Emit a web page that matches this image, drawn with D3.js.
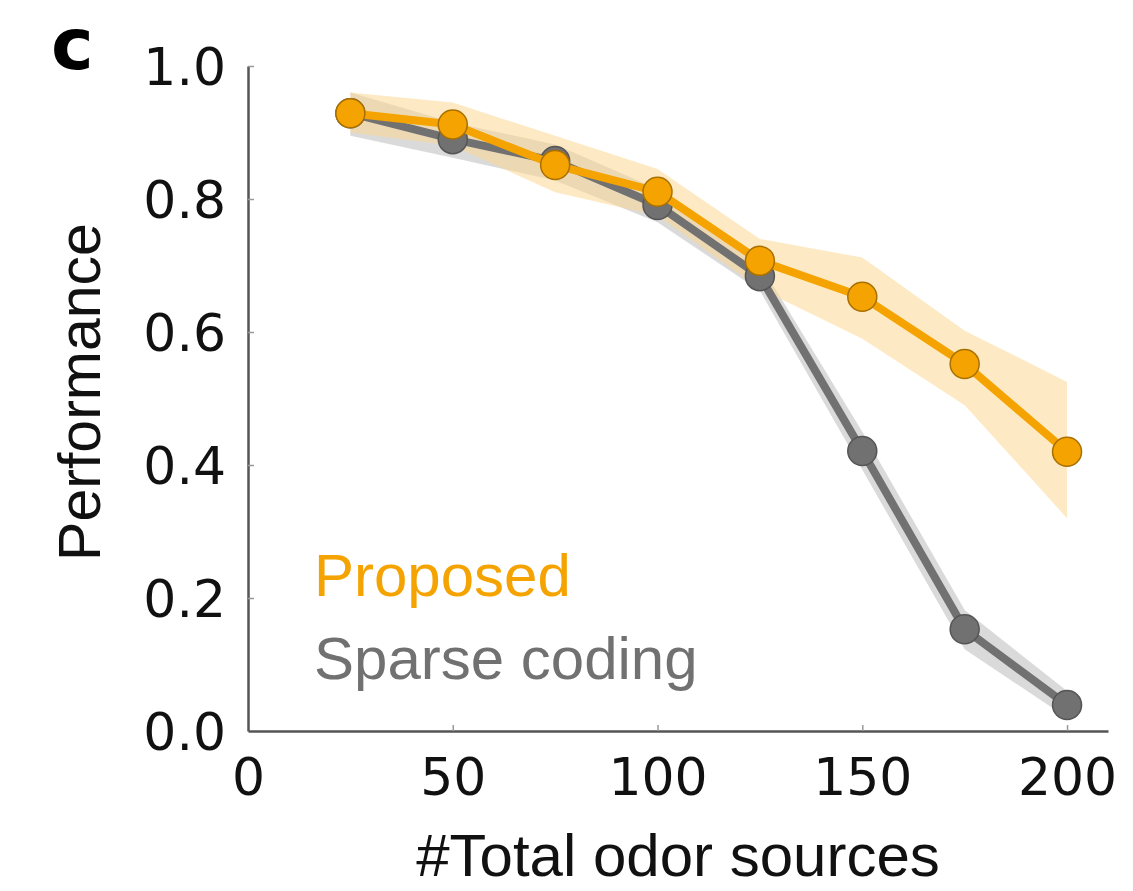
<!DOCTYPE html>
<html>
<head>
<meta charset="utf-8">
<script src="https://cdn.jsdelivr.net/npm/d3@7"></script>
<style>
  html, body { margin: 0; padding: 0; background: #fff; }
  svg { display: block; }
</style>
</head>
<body>
<svg id="chart" width="1133" height="891"></svg>
<script>
// Number of odor sources tested
const sources = [25, 50, 75, 100, 125, 150, 175, 200];

// Mean performance and shaded spread for each method
const proposedMean  = [0.929, 0.912, 0.851, 0.811, 0.707, 0.653, 0.552, 0.420];
const proposedUpper = [0.960, 0.945, 0.895, 0.845, 0.740, 0.712, 0.602, 0.525];
const proposedLower = [0.900, 0.880, 0.810, 0.775, 0.665, 0.590, 0.490, 0.320];

const sparseMean  = [0.929, 0.890, 0.857, 0.791, 0.684, 0.421, 0.153, 0.039];
const sparseUpper = [0.960, 0.915, 0.882, 0.815, 0.703, 0.450, 0.182, 0.060];
const sparseLower = [0.895, 0.862, 0.828, 0.765, 0.662, 0.393, 0.123, 0.020];

const xTicks = [0, 50, 100, 150, 200];
const yTicks = [0.0, 0.2, 0.4, 0.6, 0.8, 1.0];

const svg = d3.select("#chart");

const x = d3.scaleLinear().domain([0, 210]).range([248, 1108]);
const y = d3.scaleLinear().domain([0, 1]).range([731, 66]);

const ORANGE = "#f5a300";
const GREY = "#717171";

// Axes: inward ticks, grey lines
const xAxis = svg.append("g").attr("transform", `translate(0,${y(0)})`)
  .call(d3.axisBottom(x).tickValues(xTicks).tickSizeInner(-6).tickSizeOuter(0).tickPadding(27)
    .tickFormat(d3.format("d")));
const yAxis = svg.append("g").attr("transform", `translate(${x(0)},0)`)
  .call(d3.axisLeft(y).tickValues(yTicks).tickSizeInner(-6).tickSizeOuter(0).tickPadding(22)
    .tickFormat(d3.format(".1f")));

[xAxis, yAxis].forEach(g => {
  g.select(".domain").attr("stroke", "#555").attr("stroke-width", 2.5);
  g.selectAll(".tick line").attr("stroke", "#999").attr("stroke-width", 1.5);
  g.selectAll(".tick text")
    .attr("font-family", "DejaVu Sans, sans-serif")
    .attr("font-size", 52)
    .attr("fill", "#111");
});
xAxis.selectAll(".tick text").attr("dy", "0.71em");
yAxis.selectAll(".tick text").attr("dy", "0.36em");
// no tick mark at the origin
xAxis.selectAll(".tick").filter(d => d === 0).select("line").remove();
yAxis.selectAll(".tick").filter(d => d === 0).select("line").remove();

// Shaded spread
const area = (upper, lower) => d3.area()
  .x((d, i) => x(sources[i]))
  .y0((d, i) => y(lower[i]))
  .y1((d, i) => y(upper[i]));

svg.append("path").datum(sources)
  .attr("d", area(sparseUpper, sparseLower))
  .attr("fill", "#d4d4d4").attr("opacity", 0.85);
svg.append("path").datum(sources)
  .attr("d", area(proposedUpper, proposedLower))
  .attr("fill", "#fbd893").attr("opacity", 0.55);

const line = vals => d3.line()
  .x((d, i) => x(sources[i]))
  .y((d, i) => y(vals[i]));

function series(vals, color, edge) {
  svg.append("path").datum(sources)
    .attr("d", line(vals))
    .attr("fill", "none")
    .attr("stroke", color)
    .attr("stroke-width", 8)
    .attr("stroke-linejoin", "round");
  svg.append("g").selectAll("circle").data(sources).join("circle")
    .attr("cx", d => x(d))
    .attr("cy", (d, i) => y(vals[i]))
    .attr("r", 14.5)
    .attr("fill", color)
    .attr("stroke", edge)
    .attr("stroke-width", 1.5);
}

series(sparseMean, GREY, "#555");
series(proposedMean, ORANGE, "#a87000");

// Axis titles
svg.append("text")
  .attr("x", 678).attr("y", 876)
  .attr("text-anchor", "middle")
  .attr("font-family", "Liberation Sans, Arial, sans-serif")
  .attr("font-size", 60)
  .attr("fill", "#111")
  .text("#Total odor sources");

svg.append("text")
  .attr("transform", "translate(100,392) rotate(-90)")
  .attr("text-anchor", "middle")
  .attr("font-family", "Liberation Sans, Arial, sans-serif")
  .attr("font-size", 59)
  .attr("fill", "#111")
  .text("Performance");

// Legend
svg.append("text")
  .attr("x", 314).attr("y", 596)
  .attr("font-family", "Liberation Sans, Arial, sans-serif")
  .attr("font-size", 60)
  .attr("fill", ORANGE)
  .text("Proposed");
svg.append("text")
  .attr("x", 314).attr("y", 679)
  .attr("font-family", "Liberation Sans, Arial, sans-serif")
  .attr("font-size", 60)
  .attr("fill", GREY)
  .text("Sparse coding");

// Panel letter
svg.append("text")
  .attr("x", 51).attr("y", 69)
  .attr("font-family", "DejaVu Sans, sans-serif")
  .attr("font-weight", "bold")
  .attr("font-size", 72)
  .attr("fill", "#000")
  .text("c");
</script>
</body>
</html>
